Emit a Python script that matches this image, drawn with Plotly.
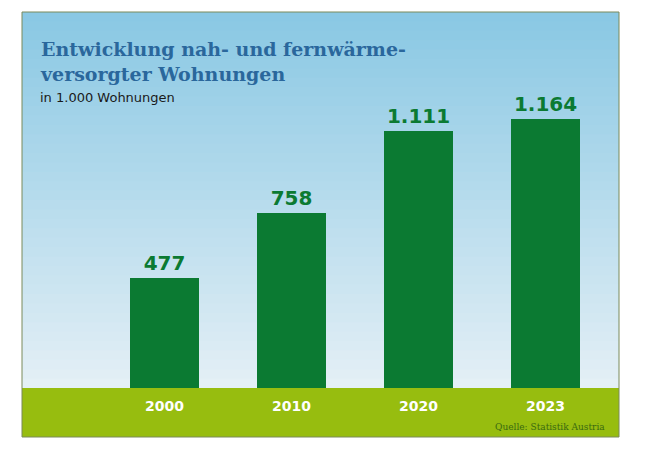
import plotly.graph_objects as go

years = ["2000", "2010", "2020", "2023"]
values = [477, 758, 1111, 1164]
labels = ["477", "758", "1.111", "1.164"]

W, H = 650, 450
OFF = 8  # page body margin
def px(x): return (x - OFF) / W
def py(y): return 1 - (y - OFF) / H

x0, x1 = px(22), px(619)
ybase = py(388)
ytop = py(12)
ybot = py(437)

fig = go.Figure()
fig.add_trace(go.Bar(x=years, y=values, text=labels, textposition="outside",
                     marker=dict(color="#0b7a32", line=dict(width=0)), width=0.543,
                     textfont=dict(family="DejaVu Sans", size=20, color="#0b7a32", weight="bold"),
                     cliponaxis=False, hoverinfo="skip"))

shapes = []
n = 40
top = (138, 200, 228); bot = (228, 240, 246)
for i in range(n):
    t = i / (n - 1)
    c = tuple(int(top[k] + (bot[k] - top[k]) * t) for k in range(3))
    ya = ytop - (ytop - ybase) * i / n
    yb = ytop - (ytop - ybase) * (i + 1.6) / n
    shapes.append(dict(type="rect", xref="paper", yref="paper", x0=x0, x1=x1, y0=max(yb, ybase), y1=ya,
                       fillcolor="rgb(%d,%d,%d)" % c, line=dict(width=0), layer="below"))
shapes.append(dict(type="rect", xref="paper", yref="paper", x0=x0, x1=x1, y0=ybot, y1=ybase,
                   fillcolor="#97bd0f", line=dict(width=0), layer="below"))
shapes.append(dict(type="rect", xref="paper", yref="paper", x0=x0, x1=x1, y0=ybot, y1=ytop,
                   fillcolor="rgba(0,0,0,0)", line=dict(width=1, color="#7a8a5a"), layer="above"))

ann = [
    dict(text="<b>Entwicklung nah- und fernwärme-<br>versorgter Wohnungen</b>", x=px(38), y=py(36),
         xanchor="left", yanchor="top", align="left",
         font=dict(family="DejaVu Serif", size=19, color="#2a679c")),
    dict(text="in 1.000 Wohnungen", x=px(38), y=py(88), xanchor="left", yanchor="top",
         font=dict(family="DejaVu Sans", size=13, color="#1a1a1a")),
    dict(text="Quelle: Statistik Austria", x=px(607), y=py(434), xanchor="right", yanchor="bottom",
         font=dict(family="DejaVu Serif", size=9, color="#3a6a10")),
]
ann = [dict(a, xref="paper", yref="paper", showarrow=False) for a in ann]

fig.update_layout(
    width=W, height=H, margin=dict(l=0, r=0, t=0, b=0),
    paper_bgcolor="white", plot_bgcolor="rgba(0,0,0,0)",
    shapes=shapes, annotations=ann, showlegend=False,
    xaxis=dict(domain=[x0, x1], range=[-1.122, 3.579], showgrid=False, zeroline=False,
               showline=False, ticks="", ticklabelstandoff=8,
               tickfont=dict(family="DejaVu Sans", size=14, color="white", weight="bold")),
    yaxis=dict(domain=[ybase, ytop], range=[0, 1628], visible=False),
    bargap=0,
)
fig.write_html("out.html")
